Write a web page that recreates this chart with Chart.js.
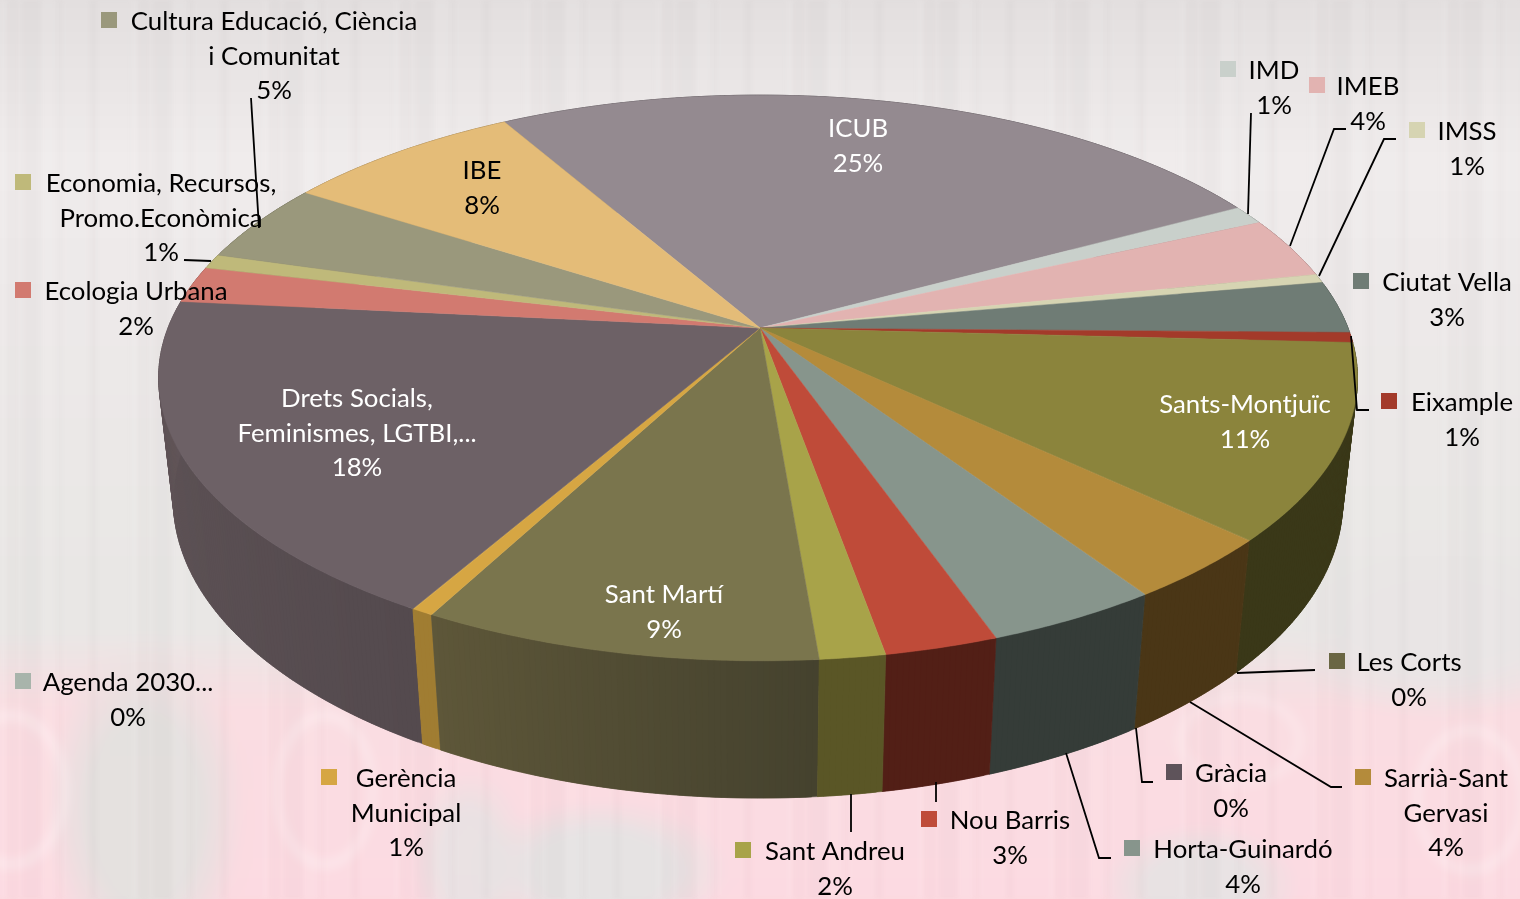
<!DOCTYPE html>
<html><head><meta charset="utf-8">
<style>
html,body{margin:0;padding:0;width:1520px;height:899px;overflow:hidden;background:#e9e5e5}
#bg{position:absolute;left:-20px;top:-20px;width:1560px;height:939px;filter:blur(5px);background:
 radial-gradient(ellipse 62px 85px at 30px 810px,transparent 76%,rgba(255,255,255,.38) 88%,transparent 98%),
 radial-gradient(ellipse 55px 85px at 345px 810px,transparent 76%,rgba(255,255,255,.34) 88%,transparent 98%),
 radial-gradient(ellipse 60px 80px at 1490px 820px,transparent 76%,rgba(255,255,255,.34) 88%,transparent 98%),
 radial-gradient(ellipse 70px 50px at 1260px 760px,transparent 70%,rgba(255,255,255,.25) 85%,transparent 98%),
 radial-gradient(ellipse 100px 170px at 165px 830px,rgba(226,224,222,.95) 55%,rgba(226,224,222,0) 100%),
 radial-gradient(ellipse 130px 70px at 620px 890px,rgba(228,226,226,.95) 55%,rgba(228,226,226,0) 100%),
 radial-gradient(ellipse 100px 60px at 1220px 905px,rgba(228,226,226,.9) 50%,rgba(228,226,226,0) 100%),
 radial-gradient(ellipse 60px 90px at 490px 880px,rgba(228,226,226,.8) 50%,rgba(228,226,226,0) 100%),
 radial-gradient(ellipse 160px 90px at 1460px 650px,rgba(232,228,228,.95) 50%,rgba(232,228,228,0) 100%),
 linear-gradient(to bottom,rgba(253,218,224,0) 0,rgba(253,218,224,0) 650px,rgba(253,218,224,.85) 730px,rgba(253,216,224,.95) 939px),
 linear-gradient(to bottom,#e0dcdc 0,#efebeb 180px,#ece8e8 320px,#e8e6e4 600px,#e8e6e4 939px);}
#st{position:absolute;left:0;top:0;width:1520px;height:899px;opacity:.6;background:
 repeating-linear-gradient(90deg,rgba(255,255,255,.14) 0 7px,rgba(110,100,100,.03) 7px 18px,rgba(255,255,255,.05) 18px 22px,rgba(110,100,100,.045) 22px 41px,rgba(255,255,255,.12) 41px 56px,rgba(110,100,100,.02) 56px 63px,rgba(255,255,255,.08) 63px 89px,rgba(110,100,100,.04) 89px 97px,rgba(255,255,255,.03) 97px 131px);filter:blur(2px)}
canvas{display:block;position:absolute;left:0;top:0}
</style></head><body>
<div id="bg"></div><div id="st"></div>
<canvas id="c" width="1520" height="899"></canvas>
<script src="https://cdn.jsdelivr.net/npm/chart.js@4/dist/chart.umd.js"></script>
<script>
const categories=["ICUB","IMD","IMEB","IMSS","Ciutat Vella","Eixample","Sants-Montjuïc","Les Corts","Sarrià-Sant Gervasi","Gràcia","Horta-Guinardó","Nou Barris","Sant Andreu","Sant Martí","Gerència Municipal","Agenda 2030...","Drets Socials, Feminismes, LGTBI,...","Ecologia Urbana","Economia, Recursos, Promo.Econòmica","Cultura Educació, Ciència i Comunitat","IBE"];
const shares=[25.45,1.1,3.53,0.5,3.0,0.58,11.1,0.03,3.6,0.03,4.0,2.6,1.5,9.1,0.48,0.03,18.3,2.1,0.83,4.6,7.6];
const percentLabels=["25%","1%","4%","1%","3%","1%","11%","0%","4%","0%","4%","3%","2%","9%","1%","0%","18%","2%","1%","5%","8%"];
const topColors=["#948a90","#c9d0cb","#e2b3b1","#d6d4b2","#6f7c75","#a33a2a","#8b843c","#6a6643","#b48b3b","#5e535a","#87958c","#bf4b39","#a8a349","#7a754d","#d6a643","#a8b4ab","#6d6166","#d27a70","#bfb97a","#9a987c","#e4bc78"];
const wallColors=["#5a5458","#7c807c","#8c6f6e","#85836e","#454d48","#5e2118","#3a3818","#3f3d28","#4a3616","#3a3338","#353c38","#521f16","#5a5626","#45422e","#a07d32","#6d756f","#544a4e","#8a504a","#7d794f","#65634f","#94794c"];
const wallEndColors=["#5a5458","#7c807c","#8c6f6e","#85836e","#454d48","#5e2118","#3a3818","#3f3d28","#4a3616","#3a3338","#353c38","#521f16","#5a5626","#5e5739","#a07d32","#6d756f","#625659","#8a504a","#7d794f","#65634f","#94794c"];
const labelLines=[["ICUB"],["IMD"],["IMEB"],["IMSS"],["Ciutat Vella"],["Eixample"],["Sants-Montjuïc"],["Les Corts"],["Sarrià-Sant","Gervasi"],["Gràcia"],["Horta-Guinardó"],["Nou Barris"],["Sant Andreu"],["Sant Martí"],["Gerència","Municipal"],["Agenda 2030..."],["Drets Socials,","Feminismes, LGTBI,..."],["Ecologia Urbana"],["Economia, Recursos,","Promo.Econòmica"],["Cultura Educació, Ciència","i Comunitat"],["IBE"]];
const startAngleDeg=-29.9;

// layout of label blocks: centre x, first line y, key left x (null: no visible key), text colour
const labelLayout=[
 [858,128,802,"#fff"],[1274,70,1220,"#000"],[1368,86,1309,"#000"],[1467,131,1409,"#000"],[1447,282,1353,"#000"],
 [1462,402,1381,"#000"],[1245,404,1130,"#fff"],[1409,662,1329,"#000"],[1446,778,1355,"#000"],[1231,773,1166,"#000"],
 [1243,849,1124,"#000"],[1010,820,921,"#000"],[835,851,735,"#000"],[664,594,null,"#fff"],[406,778,321,"#000"],
 [128,682,15,"#000"],[357,398,null,"#fff"],[136,291,15,"#000"],[161,183,15,"#000"],[274,21,101,"#000"],[482,170,435,"#000"]];
const leaderPaths=[
 [[251,98],[259,228]],[[184,260],[211,261]],[[1251,113],[1248,214]],[[1346,129],[1334,129],[1290,246]],
 [[1396,139],[1384,139],[1319,276]],[[1369,410],[1357,410],[1351,336]],[[1315,670],[1237,673]],
 [[1342,787],[1331,787],[1190,702]],[[1153,782],[1142,782],[1136,728]],[[1111,858],[1099,858],[1066,753]],
 [[936,782],[936,802]],[[851,794],[851,832]]];

// perspective view of the pie disc
const view={cx:760,cy:328,rx:590,ry:274,k:0.1767,q:0.02445,h:124.5,drift:2};
function project(a,z){
  const u=Math.cos(a),v=Math.sin(a),w=1-view.k*v+view.q*z;
  return [view.cx+view.rx*u/w-view.drift*u*u,view.cy+(view.ry*v+view.h*z)/w];
}
function angleSteps(s,e){
  const n=Math.max(2,Math.ceil((e-s)/(Math.PI/360))),r=[];
  for(let i=0;i<=n;i++)r.push(s+(e-s)*i/n);
  return r;
}
function hexMix(c1,c2,t){
  const p=c=>[1,3,5].map(i=>parseInt(c.substr(i,2),16));
  const a=p(c1),b=p(c2);
  return 'rgb('+a.map((x,i)=>Math.round(x+(b[i]-x)*t)).join(',')+')';
}
function fillPath(ctx,pts,col){
  ctx.beginPath();pts.forEach((p,i)=>i?ctx.lineTo(p[0],p[1]):ctx.moveTo(p[0],p[1]));ctx.closePath();
  ctx.fillStyle=col;ctx.fill();
  ctx.strokeStyle=col;ctx.lineWidth=.5;ctx.stroke();
}
const pie3d={id:'pie3d',
  beforeDatasetDraw(chart,args){
    const ctx=chart.ctx,arcs=chart.getDatasetMeta(args.index).data;
    // slivers too thin to see take the colour of the slice before them
    const tone=(list,i)=>(arcs[i].endAngle-arcs[i].startAngle)>Math.PI/360?list[i]:list[i-1];
    ctx.save();
    const order=arcs.map((a,i)=>i).sort((i,j)=>Math.sin((arcs[i].startAngle+arcs[i].endAngle)/2)-Math.sin((arcs[j].startAngle+arcs[j].endAngle)/2));
    order.forEach(i=>{const a=arcs[i],st=angleSteps(a.startAngle,a.endAngle);
      for(let n=0;n<st.length-1;n++){
        const far=st[Math.min(n+2,st.length-1)];
        fillPath(ctx,[project(st[n],0),project(far,0),project(far,1),project(st[n],1)],
          hexMix(tone(wallColors,i),tone(wallEndColors,i),n/(st.length-1)));
      }});
    arcs.forEach((a,i)=>{
      fillPath(ctx,[[view.cx,view.cy]].concat(angleSteps(a.startAngle,a.endAngle).map(t=>project(t,0))),tone(topColors,i));});
    ctx.restore();
    return false;
  },
  afterDatasetsDraw(chart){
    const ctx=chart.ctx;ctx.save();
    ctx.strokeStyle="#000";ctx.lineWidth=1.8;
    leaderPaths.forEach(p=>{ctx.beginPath();p.forEach((q,i)=>i?ctx.lineTo(q[0],q[1]):ctx.moveTo(q[0],q[1]));ctx.stroke();});
    ctx.font='25.8px Lato, "Open Sans", sans-serif';ctx.textAlign='center';ctx.textBaseline='middle';
    categories.forEach((c,i)=>{
      const [x,y,kx,col]=labelLayout[i];
      if(kx!==null){ctx.fillStyle=topColors[i];ctx.fillRect(kx,y-9,16,16);}
      ctx.fillStyle=col;
      labelLines[i].concat([percentLabels[i]]).forEach((t,n)=>ctx.fillText(t,x,y+1+n*34.4));
    });
    ctx.restore();
  }};
new Chart(document.getElementById('c'),{
  type:'pie',
  data:{labels:categories,datasets:[{data:shares,backgroundColor:topColors,borderWidth:0}]},
  options:{responsive:false,animation:false,rotation:startAngleDeg,
    plugins:{legend:{display:false},tooltip:{enabled:false}}},
  plugins:[pie3d]});
</script>
</body></html>
